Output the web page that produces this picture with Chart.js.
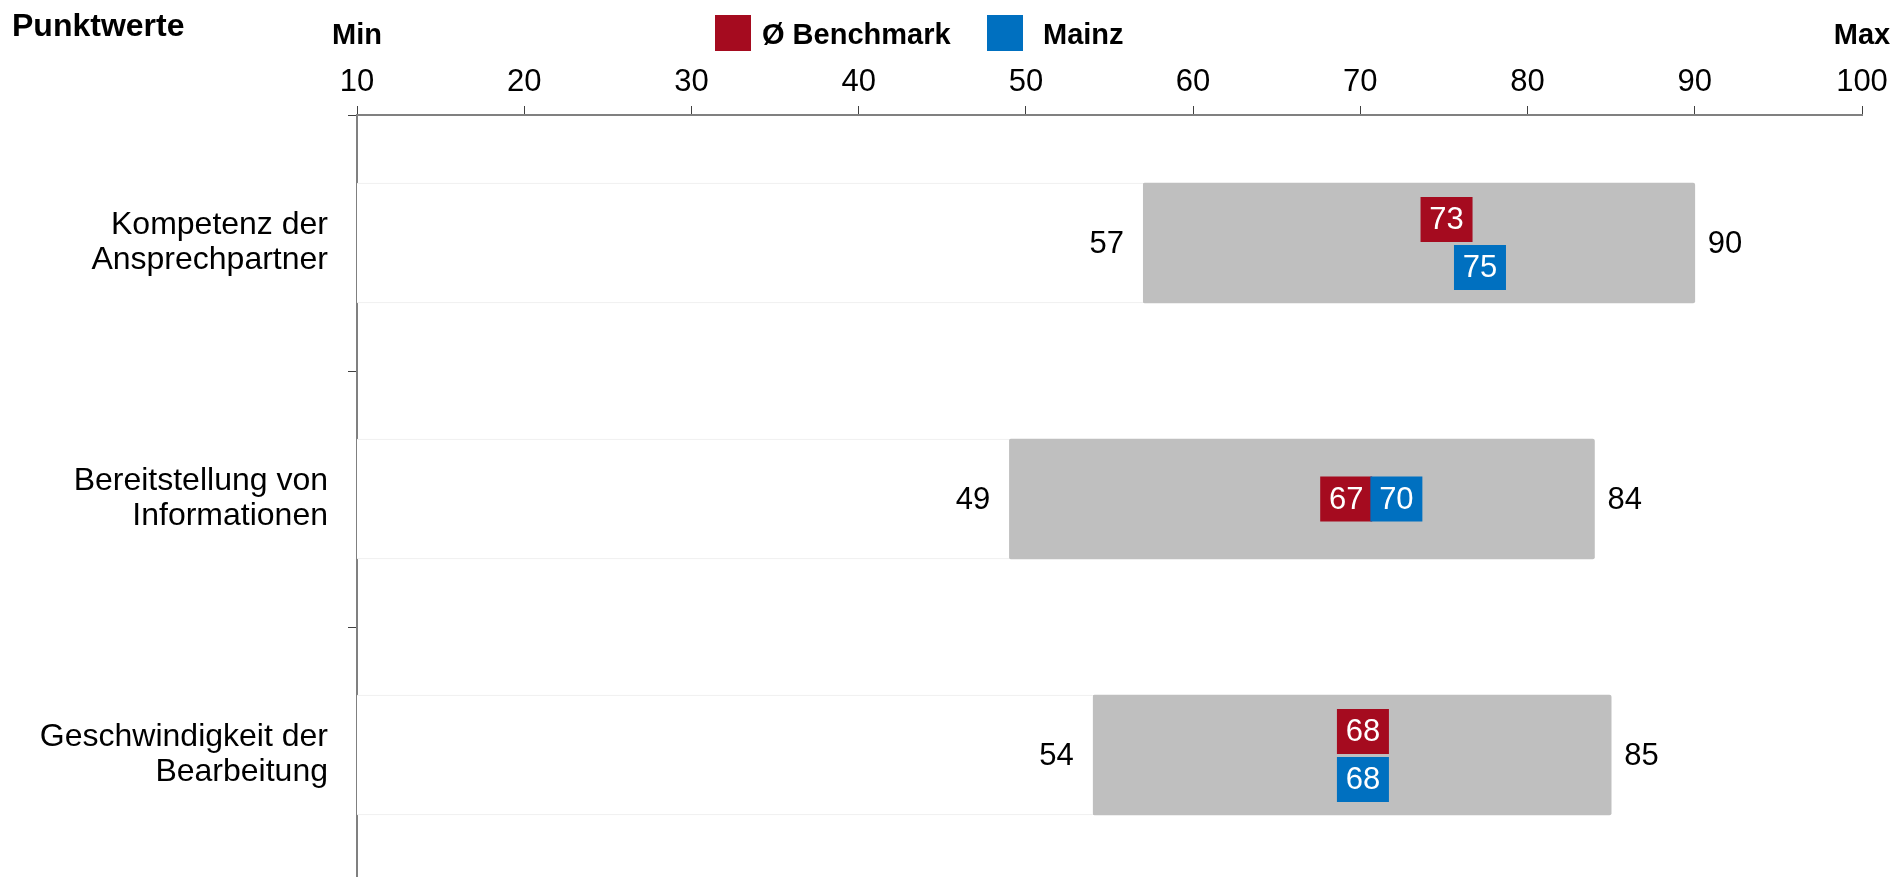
<!DOCTYPE html>
<html>
<head>
<meta charset="utf-8">
<script src="https://cdn.jsdelivr.net/npm/chart.js@4.4.1/dist/chart.umd.min.js"></script>
<style>
    html, body { margin: 0; padding: 0; background: #fff; overflow: hidden; }
    canvas { display: block; }
</style>
</head>
<body>
<canvas id="rangeChart" width="1900" height="883"></canvas>
<script>
const categories = [
    ["Kompetenz der", "Ansprechpartner"],
    ["Bereitstellung von", "Informationen"],
    ["Geschwindigkeit der", "Bearbeitung"]
];
const minValues = [57, 49, 54];
const maxValues = [90, 84, 85];
const benchmarkValues = [73, 67, 68];
const mainzValues = [75, 70, 68];
const axisMin = 10;
const axisMax = 100;
const axisStep = 10;

const RED = '#a50b1f';
const BLUE = '#0070c0';
const GREY = '#bfbfbf';
const FONT = '"Liberation Sans", Arial, sans-serif';

Chart.defaults.font.family = FONT;
Chart.defaults.color = '#000';

// Titel, Min/Max und Legende
const headerPlugin = {
    id: 'header',
    afterDraw(chart) {
        const { ctx, scales: { x } } = chart;
        ctx.save();
        ctx.fillStyle = '#000';
        ctx.textBaseline = 'middle';

        ctx.font = 'bold 32px ' + FONT;
        ctx.textAlign = 'left';
        ctx.fillText('Punktwerte', 12, 27);

        ctx.font = 'bold 29px ' + FONT;
        ctx.textAlign = 'center';
        ctx.fillText('Min', x.getPixelForValue(axisMin), 36);
        ctx.fillText('Max', x.getPixelForValue(axisMax), 36);

        const items = [
            { label: 'Ø Benchmark', color: RED, boxX: 715, textX: 762 },
            { label: 'Mainz', color: BLUE, boxX: 987, textX: 1043 }
        ];
        items.forEach(it => {
            ctx.fillStyle = it.color;
            ctx.fillRect(it.boxX, 15, 36, 36);
            ctx.fillStyle = '#000';
            ctx.textAlign = 'left';
            ctx.fillText(it.label, it.textX, 36);
        });
        ctx.restore();
    }
};

// Min-/Max-Werte neben dem grauen Balken und die Markierungen
const valuesPlugin = {
    id: 'values',
    afterDatasetsDraw(chart) {
        const { ctx, scales: { x, y } } = chart;
        const boxW = 52, boxH = 45;
        ctx.save();
        ctx.font = '31px ' + FONT;
        ctx.textBaseline = 'middle';

        categories.forEach((c, i) => {
            const yc = y.getPixelForValue(i);

            ctx.fillStyle = '#000';
            ctx.textAlign = 'right';
            ctx.fillText(String(minValues[i]), x.getPixelForValue(minValues[i]) - 19, yc + 1);
            ctx.textAlign = 'left';
            ctx.fillText(String(maxValues[i]), x.getPixelForValue(maxValues[i]) + 13, yc + 1);

            const b = benchmarkValues[i];
            const m = mainzValues[i];
            const stacked = Math.abs(m - b) < 3;
            const marks = [
                { v: b, color: RED, top: stacked ? yc - 1 - boxH : yc - boxH / 2 },
                { v: m, color: BLUE, top: stacked ? yc + 2 : yc - boxH / 2 }
            ];
            marks.forEach(mk => {
                const left = x.getPixelForValue(mk.v + 0.6);
                ctx.fillStyle = mk.color;
                ctx.fillRect(left, mk.top, boxW, boxH);
                ctx.fillStyle = '#fff';
                ctx.textAlign = 'center';
                ctx.fillText(String(mk.v), left + boxW / 2, mk.top + boxH / 2 + 1);
            });
        });
        ctx.restore();
    }
};

const ctx = document.getElementById('rangeChart').getContext('2d');

new Chart(ctx, {
    type: 'bar',
    data: {
        labels: categories,
        datasets: [
            {
                label: 'Basis',
                data: minValues.map(v => [axisMin, v]),
                backgroundColor: '#fff',
                borderColor: '#ececec',
                borderWidth: { top: 1, bottom: 1, left: 0, right: 0 },
                borderSkipped: false,
                barThickness: 120,
                grouped: false
            },
            {
                label: 'Spannweite',
                data: minValues.map((v, i) => [v, maxValues[i]]),
                backgroundColor: GREY,
                borderWidth: 0,
                borderRadius: 2,
                borderSkipped: false,
                barThickness: 120,
                grouped: false
            }
        ]
    },
    options: {
        indexAxis: 'y',
        responsive: false,
        animation: false,
        layout: { padding: { left: 0, right: 38, top: 0, bottom: 0 } },
        plugins: {
            legend: { display: false },
            tooltip: { enabled: false }
        },
        scales: {
            x: {
                position: 'top',
                min: axisMin,
                max: axisMax,
                afterFit: s => { s.height = 115; },
                ticks: {
                    stepSize: axisStep,
                    font: { size: 31 },
                    color: '#000',
                    padding: 5,
                    maxRotation: 0,
                    autoSkip: false
                },
                grid: {
                    drawOnChartArea: false,
                    tickLength: 9,
                    color: '#404040',
                    lineWidth: 1
                },
                border: { color: '#808080', width: 2 }
            },
            y: {
                afterFit: s => {
                    s.width = 357;
                    s.paddingTop = 0;
                    s.paddingBottom = 0;
                },
                ticks: {
                    font: { size: 32, lineHeight: 1.1 },
                    color: '#000',
                    padding: 20
                },
                grid: {
                    drawOnChartArea: false,
                    offset: true,
                    tickLength: 9,
                    color: '#404040',
                    lineWidth: 1
                },
                border: { color: '#808080', width: 2 }
            }
        }
    },
    plugins: [headerPlugin, valuesPlugin]
});
</script>
</body>
</html>
